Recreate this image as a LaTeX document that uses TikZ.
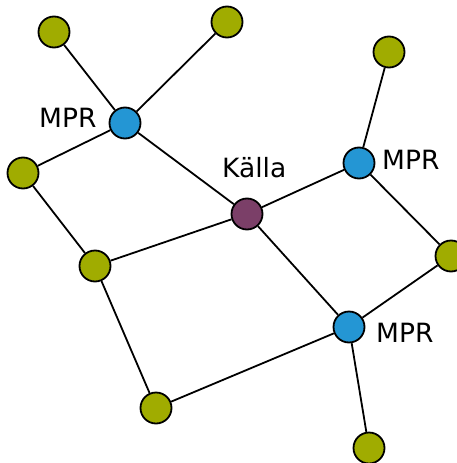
\documentclass[tikz,border=0pt]{standalone}
\usepackage{fontspec}
\setmainfont{DejaVu Sans}
\definecolor{leaf}{HTML}{A0AC00}
\definecolor{mpr}{HTML}{2496D4}
\definecolor{src}{HTML}{7B3F68}
\begin{document}
\begin{tikzpicture}[x=1pt,y=-1pt,
  dot/.style={circle,draw=black,line width=1.8pt,minimum size=31pt,inner sep=0pt},
  leafdot/.style={dot,fill=leaf},
  mprdot/.style={dot,fill=mpr},
  srcdot/.style={dot,fill=src},
  lbl/.style={anchor=base west,inner sep=0pt,font=\fontsize{26.5}{30}\selectfont},
  edge/.style={draw=black,line width=1.8pt}]
\useasboundingbox (0,0) rectangle (456,463);
\node[leafdot] (g1) at (54,32) {};
\node[leafdot] (g2) at (227,22) {};
\node[mprdot] (m1) at (125,123) {};
\node[leafdot] (g3) at (23,173) {};
\node[srcdot] (s) at (247,214) {};
\node[mprdot] (m2) at (359,163) {};
\node[leafdot] (g4) at (389,52) {};
\node[leafdot] (g5) at (451,256) {};
\node[mprdot] (m3) at (349,327) {};
\node[leafdot] (g6) at (95,266) {};
\node[leafdot] (g7) at (156,408) {};
\node[leafdot] (g8) at (369,448) {};
\node[lbl] (l1) at (39,127) {MPR};
\node[lbl] (l2) at (222,177) {Källa};
\node[lbl] (l3) at (382,169) {MPR};
\node[lbl] (l4) at (376,342) {MPR};
\path[edge] (g1) -- (m1);
\path[edge] (g2) -- (m1);
\path[edge] (m1) -- (g3);
\path[edge] (m1) -- (s);
\path[edge] (g3) -- (g6);
\path[edge] (g6) -- (s);
\path[edge] (g6) -- (g7);
\path[edge] (g7) -- (m3);
\path[edge] (s) -- (m2);
\path[edge] (s) -- (m3);
\path[edge] (m2) -- (g4);
\path[edge] (m2) -- (g5);
\path[edge] (g5) -- (m3);
\path[edge] (m3) -- (g8);
\end{tikzpicture}
\end{document}
